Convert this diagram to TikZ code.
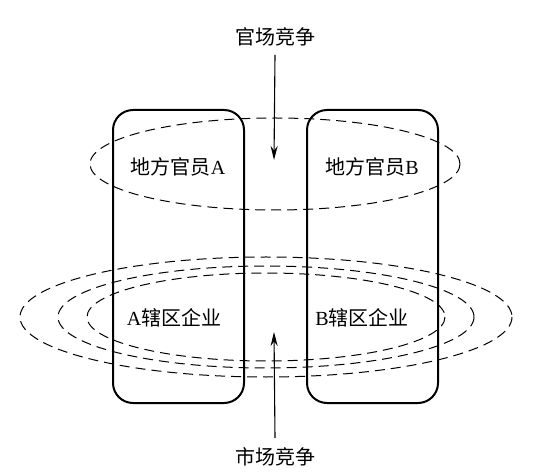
\documentclass[tikz,border=0pt]{standalone}
\usepackage{fontspec}
\setmainfont{Liberation Serif}
\newfontfamily\cjk{Noto Sans CJK SC}
\usetikzlibrary{arrows.meta}
\begin{document}
\begin{tikzpicture}[x=0.5pt,y=-0.5pt,
  box/.style={draw, line width=1pt, rounded corners=10pt},
  ring/.style={draw, line width=0.5pt, dash pattern=on 5pt off 3pt},
  lab/.style={font=\fontsize{10pt}{12pt}\selectfont, inner sep=0pt},
  arr/.style={line width=0.55pt, -{Stealth[length=7pt,width=3.5pt]}}]
\useasboundingbox (0,0) rectangle (540,475);
% boxes
\draw[box] (113,110) rectangle (244,403);
\draw[box] (307,110) rectangle (438,403);
% ellipses
\draw[ring] (275,164) ellipse [x radius=185, y radius=46];
\draw[ring] (266,317) ellipse [x radius=246, y radius=60];
\draw[ring] (266,317) ellipse [x radius=208, y radius=51];
\draw[ring] (266,317) ellipse [x radius=179, y radius=44];
% labels
\node[lab] (oa) at (178,167) {{\cjk 地方官员}A};
\node[lab] (ob) at (372,167) {{\cjk 地方官员}B};
\node[lab] (ea) at (174,318) {A{\cjk 辖区企业}};
\node[lab] (eb) at (362,318) {B{\cjk 辖区企业}};
\node[lab] (gc) at (275,37) {\cjk 官场竞争};
\node[lab] (mc) at (275,457) {\cjk 市场竞争};
\coordinate (t1) at (274,160);
\coordinate (t2) at (274,332);
\draw[arr] (gc.south |- 0,55) -- (t1);
\draw[arr] (mc.north |- 0,438) -- (t2);
\end{tikzpicture}
\end{document}
